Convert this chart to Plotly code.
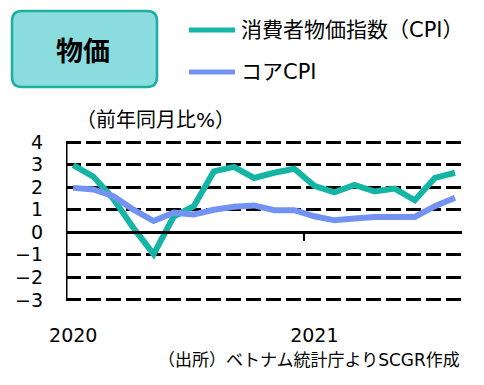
import plotly.graph_objects as go

# Data
cpi = [2.98, 2.47, 1.48, 0.19, -0.97, 0.70, 1.16, 2.70, 2.90, 2.41,
       2.64, 2.82, 2.06, 1.77, 2.10, 1.81, 1.94, 1.42, 2.41, 2.64]
core = [1.97, 1.90, 1.60, 1.00, 0.50, 0.87, 0.79, 1.00, 1.13, 1.19,
        0.98, 0.98, 0.71, 0.53, 0.61, 0.68, 0.68, 0.68, 1.16, 1.53]
x_idx = list(range(len(cpi)))
year_tick_pos = [0, 12]
year_tick_text = ["2020", "2021"]
year_boundary = [11.5]
y_ticks = [4, 3, 2, 1, 0, -1, -2, -3]

GREEN = "#14B5A5"
BLUE = "#7393F2"
FONT = "DejaVu Sans, Noto Sans CJK JP"

W, H = 484, 385
ML, MR, MT, MB = 66, 22, 141, 84
PW, PH = W - ML - MR, H - MT - MB


def px(x):
    return (x - ML) / PW


def py(y):
    return (H - MB - y) / PH


fig = go.Figure()
fig.add_trace(go.Scatter(x=x_idx, y=cpi, mode="lines", name="消費者物価指数（CPI）",
                         line=dict(color=GREEN, width=6), showlegend=False))
fig.add_trace(go.Scatter(x=x_idx, y=core, mode="lines", name="コアCPI",
                         line=dict(color=BLUE, width=6), showlegend=False))
# invisible trace to activate x2 (zero axis)
fig.add_trace(go.Scatter(x=[x_idx[0]], y=[0], xaxis="x2", mode="markers",
                         marker=dict(opacity=0), showlegend=False, hoverinfo="skip"))

xr = [-0.36, 19.35]
yr = [-3.05, 4.05]

fig.update_layout(
    width=W, height=H,
    margin=dict(l=ML, r=MR, t=MT, b=MB),
    paper_bgcolor="white", plot_bgcolor="white",
    font=dict(family=FONT, color="black"),
    xaxis=dict(range=xr, showgrid=False, zeroline=False, showline=False,
               tickmode="array", tickvals=year_tick_pos, ticktext=year_tick_text,
               ticks="", tickfont=dict(size=19, family=FONT), ticklabelstandoff=21),
    xaxis2=dict(range=xr, overlaying="x", anchor="free",
                position=(0 - yr[0]) / (yr[1] - yr[0]),
                showgrid=False, zeroline=False, showline=True, linecolor="black", linewidth=3,
                tickmode="array", tickvals=year_boundary, ticks="outside", ticklen=7,
                tickwidth=2, tickcolor="black", showticklabels=False),
    yaxis=dict(range=yr, tickmode="array", tickvals=y_ticks,
               showgrid=True, gridcolor="black", gridwidth=3, griddash="15px,5px",
               zeroline=False, showline=False,
               ticks="", tickfont=dict(size=19, family=FONT), ticklabelstandoff=22),
)

# y axis line from -3 to 4
fig.add_shape(type="line", xref="x", yref="y", x0=xr[0], x1=xr[0], y0=y_ticks[-1], y1=y_ticks[0],
              line=dict(color="black", width=3))

# Title box with rounded corners
x0, x1 = px(12), px(157)
y0, y1 = py(87), py(11)
rx, ry = 10 / PW, 10 / PH
path = (f"M {x0+rx},{y1} L {x1-rx},{y1} Q {x1},{y1} {x1},{y1-ry} "
        f"L {x1},{y0+ry} Q {x1},{y0} {x1-rx},{y0} L {x0+rx},{y0} "
        f"Q {x0},{y0} {x0},{y0+ry} L {x0},{y1-ry} Q {x0},{y1} {x0+rx},{y1} Z")
fig.add_shape(type="path", path=path, xref="paper", yref="paper",
              fillcolor="#8ADCDF", line=dict(color="#1AB0A0", width=2.5))
fig.add_annotation(text="<b>物価</b>", x=px(83), y=py(50), xref="paper", yref="paper",
                   xanchor="center", yanchor="middle",
                   showarrow=False, font=dict(size=27, family="Noto Sans CJK JP", color="black"))

# Legend
for yy, col, label in [(30, GREEN, "消費者物価指数（CPI）"), (72, BLUE, "コアCPI")]:
    fig.add_shape(type="line", xref="paper", yref="paper",
                  x0=px(189), x1=px(235), y0=py(yy), y1=py(yy),
                  line=dict(color=col, width=5))
    fig.add_annotation(text=label, x=px(239), y=py(yy), xref="paper", yref="paper",
                       xanchor="left", yanchor="middle", showarrow=False,
                       font=dict(size=21, family=FONT, color="black"))

# Axis unit label
fig.add_annotation(text="（前年同月比%）", x=px(155), y=py(120), xref="paper", yref="paper",
                   xanchor="center", yanchor="middle",
                   showarrow=False, font=dict(size=20, family=FONT, color="black"))

# Source
fig.add_annotation(text="（出所）ベトナム統計庁よりSCGR作成", x=px(462), y=py(360),
                   xref="paper", yref="paper", xanchor="right", yanchor="middle",
                   showarrow=False, font=dict(size=17, family=FONT, color="black"))

fig.write_html("out.html", post_script="document.body.style.margin='0';",
               config={"displayModeBar": False})
